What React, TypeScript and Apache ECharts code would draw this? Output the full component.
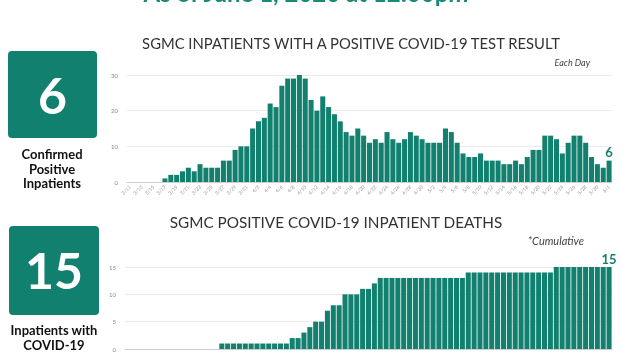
import React, { useEffect, useRef } from "react";
import * as echarts from "echarts";

const dates = [
  "3/11","3/12","3/13","3/14","3/15","3/16","3/17","3/18","3/19","3/20","3/21","3/22","3/23","3/24","3/25","3/26","3/27","3/28","3/29","3/30","3/31",
  "4/1","4/2","4/3","4/4","4/5","4/6","4/7","4/8","4/9","4/10","4/11","4/12","4/13","4/14","4/15","4/16","4/17","4/18","4/19","4/20","4/21","4/22","4/23","4/24","4/25","4/26","4/27","4/28","4/29","4/30",
  "5/1","5/2","5/3","5/4","5/5","5/6","5/7","5/8","5/9","5/10","5/11","5/12","5/13","5/14","5/15","5/16","5/17","5/18","5/19","5/20","5/21","5/22","5/23","5/24","5/25","5/26","5/27","5/28","5/29","5/30","5/31",
  "6/1",
];

const positiveInpatients = [
  0,0,0,0,0,0,
  1,2,2,3,4,3,5,4,4,4,6,6,9,10,10,
  15,17,18,22,21,27,29,29,30,29,23,20,24,21,19,
  17,14,13,15,13,11,12,11,14,12,11,12,14,13,12,
  11,11,11,15,14,11,8,7,7,8,6,6,6,5,5,6,5,7,9,9,13,13,12,8,11,13,13,11,7,5,4,
  6,
];

const cumulativeDeaths = [
  0,0,0,0,0,0,0,0,0,0,0,0,0,0,0,0,
  1,1,1,1,1,1,1,1,1,1,1,1,
  2,2,3,4,5,5,7,8,8,10,10,10,11,11,12,
  13,13,13,13,13,13,13,13,13,13,13,13,13,13,13,
  14,14,14,14,14,14,14,14,14,14,14,14,14,14,14,
  15,15,15,15,15,15,15,15,15,15,
];

const topTicks = [0, 10, 20, 30];
const bottomTicks = [0, 5, 10, 15];

const TEAL = "#11806e";
const FONT = "Lato, 'Open Sans', sans-serif";

export default function App() {
  const ref = useRef<HTMLDivElement>(null);
  useEffect(() => {
    if (!ref.current) return;
    const chart = echarts.init(ref.current, undefined, { renderer: "svg" });
    const lastLabel = (arr: number[], fs: number) =>
      arr.map((v, i) =>
        i === arr.length - 1
          ? { value: v, label: { show: true, position: "top", distance: 2, color: TEAL, fontWeight: "bold", fontSize: fs, fontFamily: FONT } }
          : v
      );
    const leftText = (text: string, x: number, y: number) => ({
      type: "text", x, y,
      style: { text, fill: "#111", font: `bold 13px ${FONT}`, textAlign: "center", textVerticalAlign: "middle" },
    });
    chart.setOption({
      animation: false,
      textStyle: { fontFamily: FONT },
      grid: [
        { left: 127, right: 9, top: 75, bottom: 170 },
        { left: 125, right: 9, top: 267, bottom: 3 },
      ],
      xAxis: [
        {
          type: "category", gridIndex: 0, data: dates,
          axisLine: { lineStyle: { color: "#cccccc" } },
          axisTick: { show: false },
          axisLabel: { interval: 1, rotate: 45, fontSize: 5, color: "#999", margin: 4 },
        },
        {
          type: "category", gridIndex: 1, data: dates,
          axisLine: { lineStyle: { color: "#cccccc" } },
          axisTick: { show: false },
          axisLabel: { show: false },
        },
      ],
      yAxis: [
        {
          type: "value", gridIndex: 0, min: topTicks[0], max: topTicks[topTicks.length - 1], interval: 10,
          axisLabel: { fontSize: 6, color: "#888", margin: 9 },
          splitLine: { lineStyle: { color: "#ebebeb" } },
          axisLine: { show: false }, axisTick: { show: false },
        },
        {
          type: "value", gridIndex: 1, min: bottomTicks[0], max: bottomTicks[bottomTicks.length - 1], interval: 5,
          axisLabel: { fontSize: 6, color: "#888", margin: 9 },
          splitLine: { lineStyle: { color: "#ebebeb" } },
          axisLine: { show: false }, axisTick: { show: false },
        },
      ],
      series: [
        {
          type: "bar", xAxisIndex: 0, yAxisIndex: 0, data: lastLabel(positiveInpatients, 13),
          itemStyle: { color: TEAL }, barCategoryGap: "14%",
        },
        {
          type: "bar", xAxisIndex: 1, yAxisIndex: 1, data: lastLabel(cumulativeDeaths, 13),
          itemStyle: { color: TEAL }, barCategoryGap: "14%",
        },
      ],
      graphic: [
        { type: "text", x: 306, y: 4, style: { text: "As of June 1, 2020 at 12:00pm", fill: "#1a8a78", font: `bold 24px ${FONT}`, textAlign: "center", textVerticalAlign: "bottom" } },
        { type: "text", x: 351, y: 43, style: { text: "SGMC INPATIENTS WITH A POSITIVE COVID-19 TEST RESULT", fill: "#333", font: `14.8px ${FONT}`, textAlign: "center", textVerticalAlign: "middle" } },
        { type: "text", x: 336, y: 222, style: { text: "SGMC POSITIVE COVID-19 INPATIENT DEATHS", fill: "#333", font: `15.3px ${FONT}`, textAlign: "center", textVerticalAlign: "middle" } },
        { type: "text", x: 590, y: 62, style: { text: "Each Day", fill: "#444", font: `italic 9px ${FONT}`, textAlign: "right", textVerticalAlign: "middle" } },
        { type: "text", x: 584, y: 240, style: { text: "*Cumulative", fill: "#444", font: `italic 11px ${FONT}`, textAlign: "right", textVerticalAlign: "middle" } },
        { type: "rect", shape: { x: 8, y: 51, width: 89, height: 87, r: 4 }, style: { fill: TEAL } },
        { type: "text", x: 52.5, y: 95, style: { text: "6", fill: "#fff", font: `bold 50px ${FONT}`, textAlign: "center", textVerticalAlign: "middle" } },
        leftText("Confirmed", 52, 154),
        leftText("Positive", 52, 168.5),
        leftText("Inpatients", 52, 183),
        { type: "rect", shape: { x: 9, y: 226, width: 90, height: 89, r: 4 }, style: { fill: TEAL } },
        { type: "text", x: 54, y: 270, style: { text: "15", fill: "#fff", font: `bold 50px ${FONT}`, textAlign: "center", textVerticalAlign: "middle" } },
        leftText("Inpatients with", 54, 330),
        leftText("COVID-19", 54, 345),
      ],
    });
    return () => chart.dispose();
  }, []);
  return <div ref={ref} style={{ position: "fixed", left: 0, top: 0, width: 621, height: 352 }} />;
}
